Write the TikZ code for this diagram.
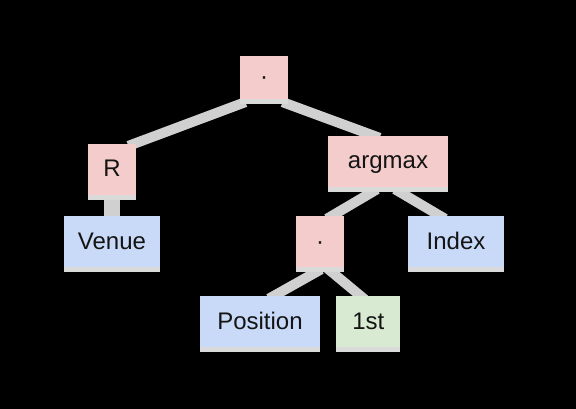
\documentclass[tikz,border=0pt]{standalone}
\usepackage{fontspec}
\setmainfont{Liberation Sans}
\usetikzlibrary{positioning,backgrounds}
\definecolor{oppink}{HTML}{F4CCCC}
\definecolor{fieldblue}{HTML}{C9DAF8}
\definecolor{constgreen}{HTML}{D9EAD3}
\definecolor{linkgray}{HTML}{D0D0D0}
\definecolor{stripgray}{HTML}{DADADA}
\definecolor{inkgray}{HTML}{141414}
\tikzset{
  cell/.style={inner sep=0pt, minimum height=56pt, text height=16pt, text depth=6pt,
    font=\fontsize{24}{27}\selectfont, text=inkgray,
    path picture={\fill[stripgray] ([yshift=5pt]path picture bounding box.south west) rectangle (path picture bounding box.south east);}},
  opnode/.style={cell, fill=oppink},
  fieldnode/.style={cell, fill=fieldblue},
  constnode/.style={cell, fill=constgreen},
  link/.style={draw=linkgray, line width=10pt, shorten <=-6pt, shorten >=-6pt}
}

\begin{document}
\begin{tikzpicture}[x=1pt, y=-1pt]
\begin{scope}[on background layer]
\fill[black] (0,0) rectangle (576,409);
\end{scope}
% operators
\node[opnode, minimum width=48pt, minimum height=48pt] (root) at (264,80) {·};
\node[opnode, minimum width=48pt] (recip) at (112,172) {R};
\node[opnode, minimum width=120pt] (argmax) at (388,164) {argmax};
\node[opnode, minimum width=48pt] (dotin) at (320,244) {·};
% leaves
\node[fieldnode, minimum width=96pt, below=16pt of recip] (venue) {Venue};
\node[fieldnode, minimum width=96pt] (index) at (456,244) {Index};
\node[fieldnode, minimum width=120pt] (position) at (260,324) {Position};
\node[constnode, minimum width=64pt, right=16pt of position] (first) {1st};
\begin{scope}[on background layer]
\draw[link] (root.south west) -- ([xshift=22pt]recip.north);
\draw[link] (root.south east) -- ([xshift=-14pt]argmax.north);
\draw[link, line width=16pt] (recip.south) -- (venue.north);
\draw[link] ([xshift=-16pt]argmax.south) -- ([xshift=12pt]dotin.north);
\draw[link] ([xshift=12pt]argmax.south) -- ([xshift=-16pt]index.north);
\draw[link] ([xshift=-4pt]dotin.south) -- ([xshift=14pt]position.north);
\draw[link] ([xshift=12pt]dotin.south) -- ([xshift=-8pt]first.north);
\end{scope}
\end{tikzpicture}
\end{document}
